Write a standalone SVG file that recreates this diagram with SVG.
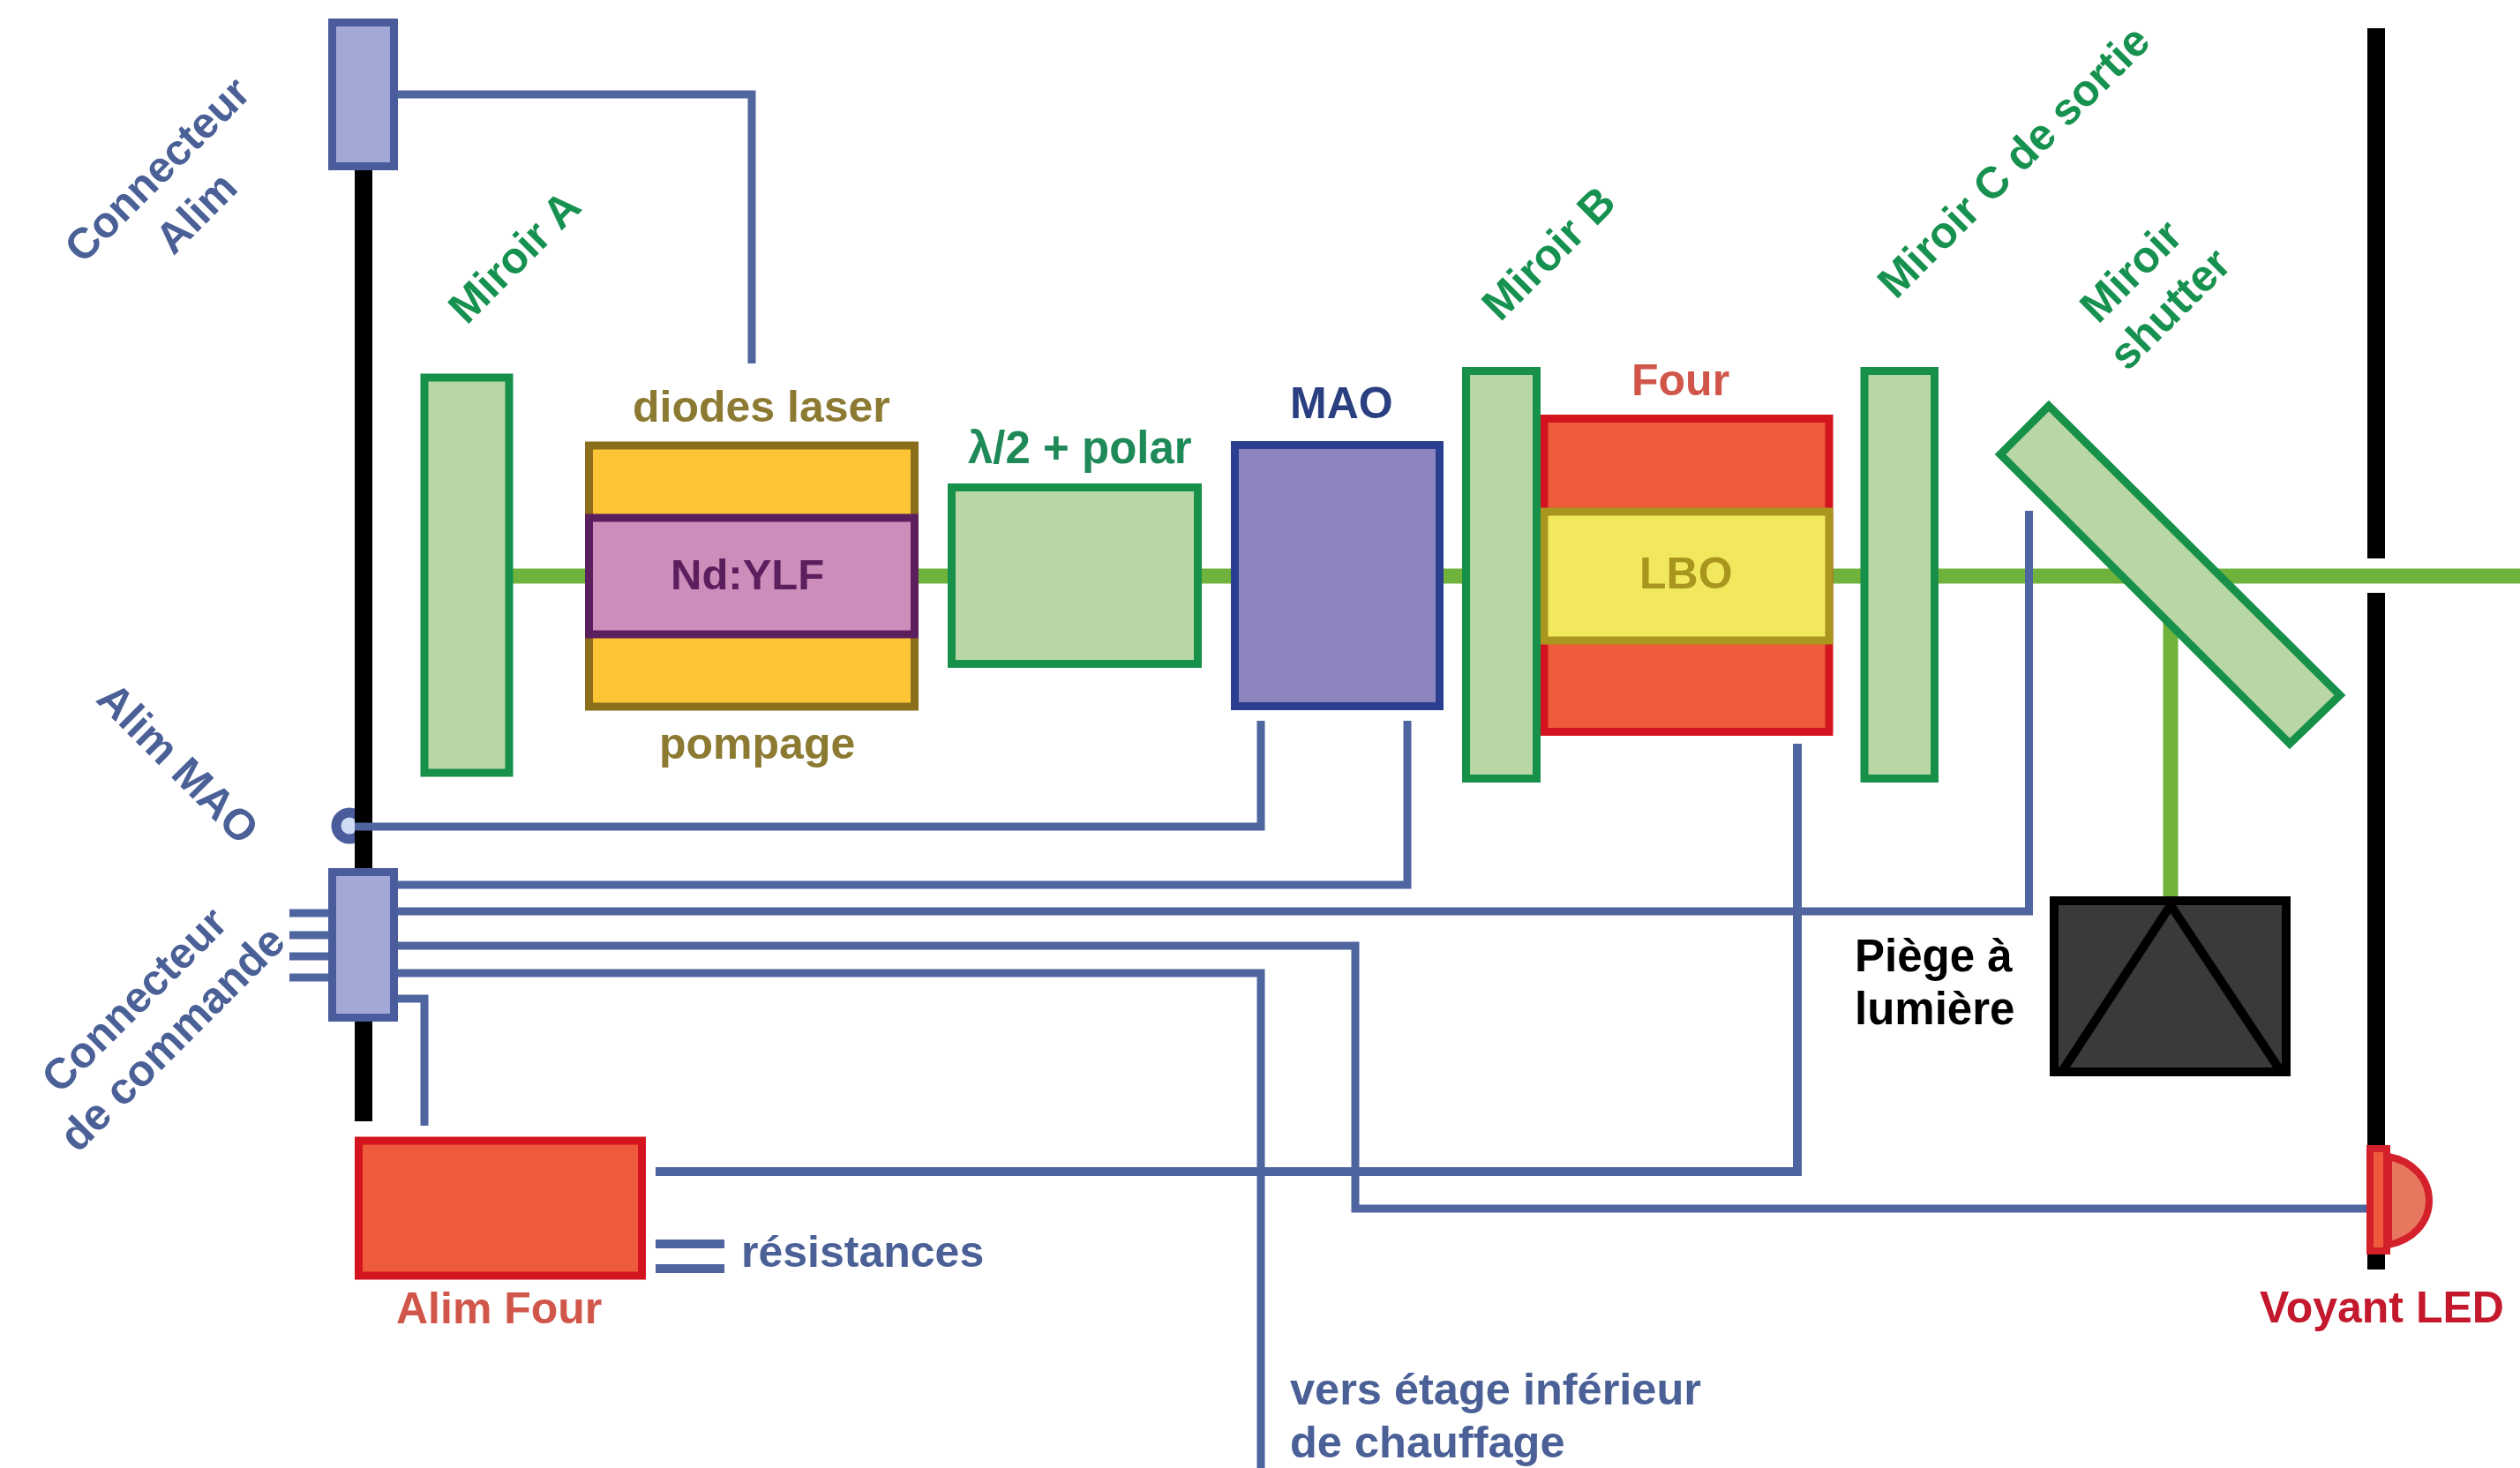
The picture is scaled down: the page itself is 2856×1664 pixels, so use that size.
<svg xmlns="http://www.w3.org/2000/svg" width="2856" height="1664" viewBox="0 0 2856 1664">
<style>
text{font-family:"Liberation Sans",Arial,sans-serif;font-weight:700;font-size:50px}
.rot{text-anchor:middle}
.blue{fill:#4a6096}.green{fill:#17914f}
.wire{fill:none;stroke:#4f659f;stroke-width:9;stroke-linejoin:miter}
.beam{fill:none;stroke:#6fb23c;stroke-width:17}
.rail{fill:none;stroke:#000;stroke-width:20}
.conn{fill:#a3a8d6;stroke:#4a5c9c;stroke-width:9}
.mirror{fill:#b9d7a4;stroke:#17914a;stroke-width:9}
</style>
<rect width="2856" height="1664" fill="#fff"/>
<g id="alim-mao">
<circle cx="396" cy="936" r="15" fill="#cfdcf5" stroke="#4a5c9c" stroke-width="11"/>
<text class="rot blue" transform="translate(202 865) rotate(45)" y="17" style="font-size:49px">Alim MAO</text>
</g>
<g id="rails">
<path class="rail" d="M412 193V1271"/>
<path class="rail" d="M2693 32V633M2693 672V1439"/>
</g>
<g id="connectors">
<path class="beam" d="M581 653H2856"/>
<path class="beam" d="M2460 700V1016"/>
<path class="wire" d="M451 107H852V412"/>
<path class="wire" d="M402 937H1429V817"/>
<path class="wire" d="M451 1003H1595V817"/>
<path class="wire" d="M451 1033H2299.500V579"/>
<path class="wire" d="M451 1072H1536V1370H2682"/>
<path class="wire" d="M451 1103H1429V1664"/>
<path class="wire" d="M451 1132H481V1276"/>
<path class="wire" style="stroke-width:10" d="M743 1328H2037V843"/>
<path class="wire" style="stroke-width:10" d="M743 1410H821M743 1438H821"/>
<path class="wire" d="M328 1035H372M328 1060H372M328 1084H372M328 1108H372"/>
</g>
<g id="connecteur-alim">
<rect class="conn" x="376.500" y="25.500" width="70" height="163"/>
<text class="rot blue" transform="translate(178 192) rotate(-45)" y="17" style="font-size:49px">Connecteur</text>
<text class="rot blue" transform="translate(222 241) rotate(-45)" y="17" style="font-size:49px">Alim</text>
</g>
<g id="connecteur-commande">
<rect class="conn" x="376.500" y="988.500" width="70" height="165"/>
<text class="rot blue" transform="translate(152 1133) rotate(-45)" y="17" style="font-size:49px">Connecteur</text>
<text class="rot blue" transform="translate(195 1177) rotate(-45)" y="17">de commande</text>
</g>
<g id="miroir-a">
<rect class="mirror" x="481" y="428" width="96" height="448"/>
<text class="rot green" transform="translate(583 291) rotate(-45)" y="17">Miroir A</text>
</g>
<g id="diodes">
<rect x="667.500" y="505" width="369" height="296" fill="#fdc436" stroke="#8a6e1c" stroke-width="9"/>
<text x="717" y="478" fill="#8c7a32">diodes laser</text>
<text x="747" y="860" fill="#8c7a32">pompage</text>
</g>
<g id="nd-ylf">
<rect x="667.500" y="587" width="369" height="132" fill="#cc8dbb" stroke="#5b1f5e" stroke-width="9"/>
<text x="760" y="668" fill="#5b1f5e" style="font-size:49px">Nd:YLF</text>
</g>
<g id="lambda">
<rect class="mirror" x="1078.500" y="552.500" width="279" height="200"/>
<text x="1097" y="525" fill="#1f8a58" style="font-size:51px">λ/2 + polar</text>
</g>
<g id="mao">
<rect x="1399.500" y="504.500" width="232" height="296" fill="#8d85bd" stroke="#2a3f8f" stroke-width="9"/>
<text x="1462" y="474" fill="#2a3f80">MAO</text>
</g>
<g id="four">
<rect x="1750" y="474.500" width="323" height="355" fill="#ee5a3c" stroke="#d3131d" stroke-width="9"/>
<text x="1849" y="448" fill="#d0564a">Four</text>
</g>
<g id="lbo">
<rect x="1750" y="580" width="323" height="146" fill="#f2e85e" stroke="#a8961e" stroke-width="9"/>
<text x="1858" y="667" fill="#a8961e">LBO</text>
</g>
<g id="miroir-b">
<rect class="mirror" x="1661.500" y="420.500" width="80" height="462"/>
<text class="rot green" transform="translate(1755 287) rotate(-45)" y="17">Miroir B</text>
</g>
<g id="miroir-c">
<rect class="mirror" x="2113" y="420.500" width="79.500" height="462"/>
<text class="rot green" transform="translate(2282 183) rotate(-45)" y="17">Miroir C de sortie</text>
</g>
<g id="miroir-shutter">
<polygon class="mirror" points="2322,460 2267,515 2595,843 2652,788"/>
<text class="rot green" transform="translate(2415 307) rotate(-45)" y="17">Miroir</text>
<text class="rot green" transform="translate(2459 350) rotate(-45)" y="17">shutter</text>
</g>
<g id="piege">
<rect x="2328" y="1021" width="263" height="194" fill="#3a3a3a" stroke="#000" stroke-width="10"/>
<path d="M2336 1216L2460 1026L2586 1216" fill="none" stroke="#000" stroke-width="10"/>
<text x="2102" y="1101" fill="#000" style="font-size:51px">Piège à</text>
<text x="2102" y="1161" fill="#000" style="font-size:51px">lumière</text>
</g>
<g id="alim-four">
<rect x="406.500" y="1293" width="321" height="153" fill="#ee5a3c" stroke="#d3131d" stroke-width="9"/>
<text x="449" y="1500" fill="#d0564a">Alim Four</text>
</g>
<g id="labels">
<text class="blue" x="840" y="1436">résistances</text>
<text class="blue" style="font-size:50.500px" x="1462" y="1592">vers étage inférieur</text>
<text class="blue" style="font-size:50.500px" x="1462" y="1652">de chauffage</text>
</g>
<g id="led">
<path d="M2707 1311C2734 1316 2753 1336 2753 1361C2753 1386 2734 1406 2707 1411Z" fill="#e8775f" stroke="#d3202a" stroke-width="8"/>
<rect x="2686" y="1302" width="19" height="116" fill="#ef5a3c" stroke="#d3202a" stroke-width="8"/>
<text x="2561" y="1499" fill="#c4182c">Voyant LED</text>
</g>
</svg>
